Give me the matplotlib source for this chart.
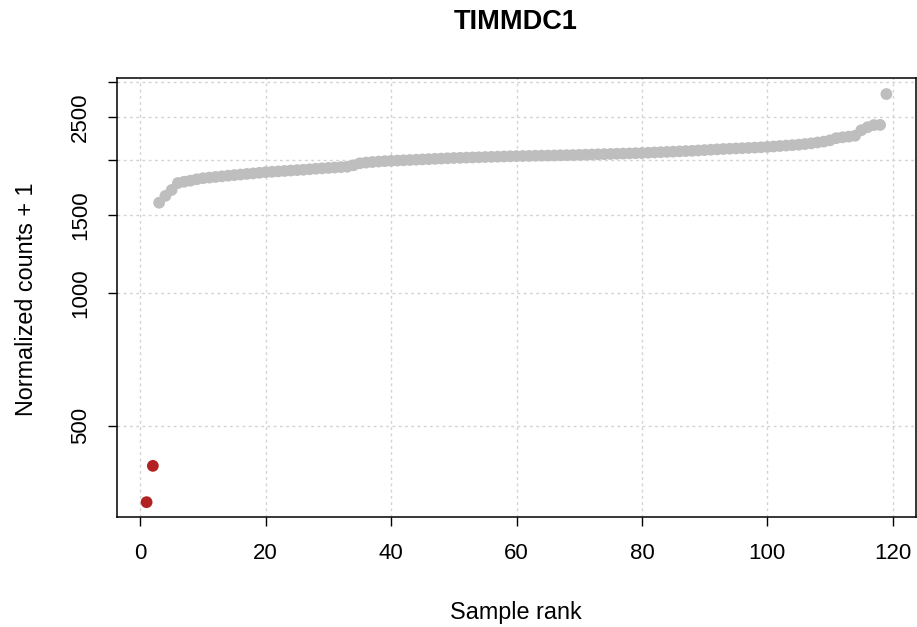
import numpy as np
import matplotlib
matplotlib.use("Agg")
from matplotlib import pyplot as plt

plt.rcParams['font.family'] = ['Liberation Sans', 'DejaVu Sans']

#data -- ranks and normalized counts
red_rank = [1, 2]
red_counts = [336, 406]

gray_rank = list(range(3, 120))
gray_counts = [1600, 1658, 1710, 1773, 1785, 1795, 1808, 1818, 1824, 1830,
               1836, 1842, 1848, 1853, 1859, 1864, 1870, 1876, 1880, 1884,
               1888, 1892, 1896, 1900, 1905, 1910, 1914, 1918, 1922, 1926,
               1930, 1945, 1965, 1972, 1978, 1983, 1987, 1990, 1993, 1996,
               1999, 2002, 2005, 2008, 2011, 2014, 2017, 2020, 2022, 2024,
               2026, 2028, 2030, 2032, 2034, 2036, 2038, 2040, 2041, 2042,
               2044, 2045, 2046, 2047, 2049, 2050, 2051, 2053, 2055, 2057,
               2059, 2061, 2063, 2065, 2067, 2069, 2071, 2073, 2076, 2079,
               2082, 2085, 2088, 2091, 2094, 2097, 2101, 2105, 2109, 2113,
               2117, 2120, 2123, 2126, 2129, 2132, 2136, 2140, 2145, 2150,
               2155, 2160, 2165, 2172, 2180, 2190, 2200, 2215, 2240, 2250,
               2258, 2268, 2335, 2372, 2398, 2400, 2819]

x_ticks = [0, 20, 40, 60, 80, 100, 120]
y_ticks = [500, 1000, 1500, 2000, 2500, 3000]
y_tick_labels = ['500', '1000', '1500', '', '2500', '']

fig = plt.figure(figsize=(9.17, 6.27), dpi=100)
ax = fig.add_axes([117/917, 110/627, 799/917, 439/627])

ax.set_yscale('log')
ax.set_xlim(-3.72, 123.72)
ax.set_ylim(311, 3065)

#grid like R's grid()
for xv in x_ticks:
    ax.axvline(xv, color='#D3D3D3', lw=1, ls=(0, (2, 2.5)), zorder=0)
for yv in y_ticks:
    ax.axhline(yv, color='#D3D3D3', lw=1, ls=(0, (2, 2.5)), zorder=0)

ax.scatter(gray_rank, gray_counts, s=72, color='#BEBEBE', edgecolors='none', zorder=2)
ax.scatter(red_rank, red_counts, s=72, color='#B22222', edgecolors='none', zorder=3)

ax.set_xticks(x_ticks)
ax.set_xticklabels([str(v) for v in x_ticks])
ax.set_yticks(y_ticks)
ax.set_yticklabels(y_tick_labels, rotation=90, va='center')
ax.yaxis.set_minor_locator(matplotlib.ticker.NullLocator())
ax.tick_params(axis='both', length=6.5, width=1, labelsize=16, color='black')
ax.tick_params(axis='x', pad=12)
ax.tick_params(axis='y', pad=12)

for sp in ax.spines.values():
    sp.set_linewidth(1.1)

fig.text(516/917, 1 - 22/627, 'TIMMDC1', ha='center', va='center',
         fontsize=19.5, fontweight='bold')
fig.text(516/917, 14/627, 'Sample rank', ha='center', va='center', fontsize=16.8)
fig.text(27/917, 1 - 299/627, 'Normalized counts + 1', ha='center', va='center',
         rotation=90, fontsize=16.8)

fig.savefig('out.png', dpi=100)
